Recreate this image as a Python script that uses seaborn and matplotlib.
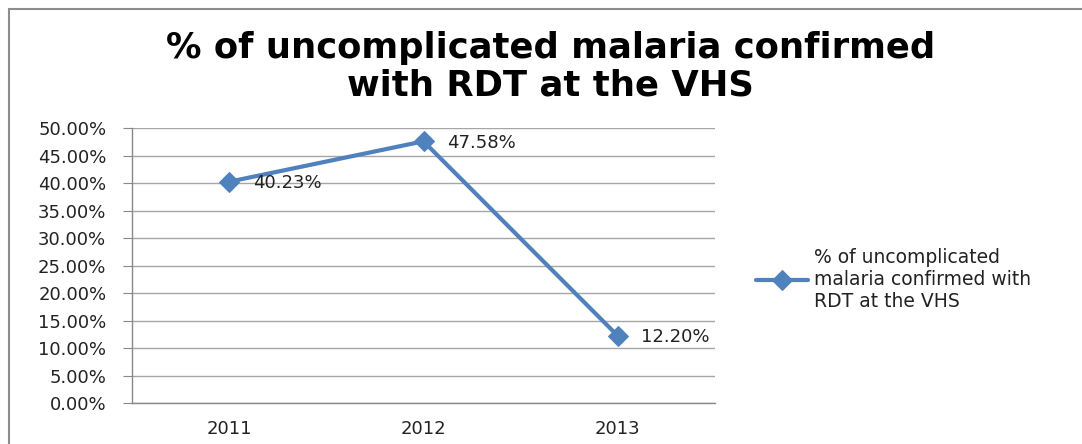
import matplotlib
matplotlib.use('Agg')
import matplotlib.pyplot as plt
import seaborn as sns
import pandas as pd
from matplotlib.patches import Rectangle
from matplotlib.ticker import FixedLocator, PercentFormatter

years = ['2011', '2012', '2013']
pct = [40.23, 47.58, 12.20]
series_name = '% of uncomplicated malaria confirmed with RDT at the VHS'
legend_label = '% of uncomplicated\nmalaria confirmed with\nRDT at the VHS'

sns.set_style('white')
plt.rcParams['font.family'] = ['DejaVu Sans']

df = pd.DataFrame({'year': years, 'pct': pct})
df['pos'] = range(len(df))

fig = plt.figure(figsize=(10.82, 4.44), dpi=100)
ax = fig.add_axes([132 / 1082, 1 - 403 / 444, (715 - 132) / 1082, (403 - 128) / 444])

blue = '#4F81BD'
sns.lineplot(data=df, x='pos', y='pct', ax=ax, color=blue, linewidth=3,
             marker='D', markersize=10, markeredgecolor=blue, label=legend_label)

for x, y in zip(df['pos'], df['pct']):
    ax.annotate(f'{y:.2f}%', (x, y), xytext=(17, -1), textcoords='offset points',
                ha='left', va='center', fontsize=13, color='#222222')

ax.set_xlim(-0.5, len(years) - 0.5)
ax.set_ylim(0, 50)
ax.yaxis.set_major_locator(FixedLocator([i * 5 for i in range(11)]))
ax.yaxis.set_major_formatter(PercentFormatter(decimals=2))
ax.set_xticks(df['pos'])
ax.set_xticklabels(years)
ax.set_xticks([i - 0.5 for i in range(len(years) + 1)], minor=True)
ax.tick_params(axis='x', which='major', length=0, pad=12, labelsize=13, labelcolor='#222222')
ax.tick_params(axis='x', which='minor', length=7, color='#888888', direction='out')
ax.tick_params(axis='y', length=6.5, color='#888888', direction='out', labelsize=13, pad=12,
               left=True, labelcolor='#222222')
ax.set_xlabel('')
ax.set_ylabel('')
ax.grid(axis='y', color='#A6A6A6', linewidth=1)
ax.set_axisbelow(True)
for side in ['top', 'right']:
    ax.spines[side].set_visible(False)
for side in ['left', 'bottom']:
    ax.spines[side].set_color('#888888')
    ax.spines[side].set_linewidth(1)

leg = ax.legend(loc='center left', bbox_to_anchor=(0.041, 0.45), frameon=False,
                fontsize=13.5, handlelength=2.8, handletextpad=0.3)
leg.set_bbox_to_anchor((1.041, 0.45), transform=ax.transAxes)
for t in leg.get_texts():
    t.set_linespacing(1.2)
    t.set_color('#222222')

fig.text(0.509, 0.85, '% of uncomplicated malaria confirmed\nwith RDT at the VHS',
         ha='center', va='center', fontsize=25.5, fontweight='bold', linespacing=1.12,
         color='black')

fig.patches.append(Rectangle((9 / 1082, -0.2), 1.5, 1.2 - 9 / 444, transform=fig.transFigure,
                             fill=False, edgecolor='#8C8C8C', linewidth=1.5))

fig.savefig('out.png', dpi=100)
